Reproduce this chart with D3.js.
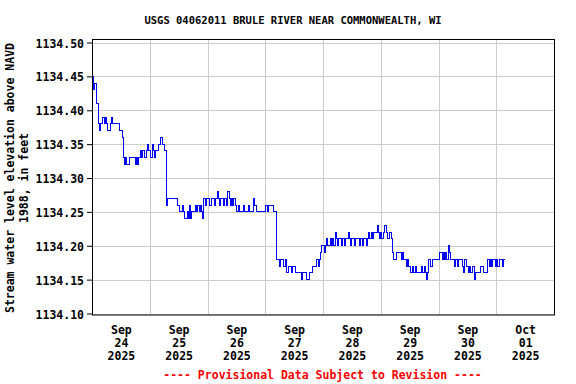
<!DOCTYPE html>
<html>
<head>
<meta charset="utf-8">
<script src="https://cdn.jsdelivr.net/npm/d3@7"></script>
<style>
  html, body { margin: 0; padding: 0; background: #fff; }
  svg { display: block; }
  text { font-family: "DejaVu Sans Mono", monospace; font-weight: bold; }
</style>
</head>
<body>
<svg id="chart" width="576" height="384"></svg>
<script>
// ---------------- DATA ----------------
const titleText = "USGS 04062011 BRULE RIVER NEAR COMMONWEALTH, WI";
const yLabelLines = ["Stream water level elevation above NAVD", "1988, in feet"];
const footerText = "---- Provisional Data Subject to Revision ----";

// first reading: 2025-09-24 00:00, one reading every 30 minutes
const seriesStart = [2025, 8, 24, 0, 0];
const readingMinutes = 30;

// water level, feet above NAVD 1988 (30-minute readings)
const levels = [
  1134.45,1134.43,1134.44,1134.44,1134.41,1134.38,1134.37,1134.38,1134.38,1134.39,1134.38,1134.39,
  1134.38,1134.37,1134.37,1134.38,1134.39,1134.38,1134.38,1134.38,1134.38,1134.38,1134.38,1134.37,
  1134.37,1134.36,1134.33,1134.32,1134.33,1134.32,1134.32,1134.33,1134.33,1134.33,1134.33,1134.33,
  1134.32,1134.33,1134.32,1134.33,1134.34,1134.33,1134.34,1134.34,1134.33,1134.34,1134.35,1134.34,
  1134.34,1134.33,1134.35,1134.34,1134.33,1134.34,1134.34,1134.35,1134.35,1134.36,1134.36,1134.35,
  1134.34,1134.34,1134.26,1134.27,1134.27,1134.27,1134.27,1134.27,1134.27,1134.27,1134.27,1134.26,
  1134.26,1134.25,1134.25,1134.26,1134.25,1134.24,1134.24,1134.25,1134.24,1134.26,1134.24,1134.25,
  1134.25,1134.25,1134.26,1134.25,1134.26,1134.25,1134.26,1134.25,1134.24,1134.27,1134.26,1134.27,
  1134.27,1134.27,1134.26,1134.27,1134.27,1134.27,1134.26,1134.27,1134.28,1134.27,1134.26,1134.27,
  1134.27,1134.26,1134.27,1134.27,1134.26,1134.28,1134.27,1134.26,1134.27,1134.26,1134.27,1134.26,
  1134.25,1134.25,1134.26,1134.25,1134.25,1134.25,1134.26,1134.25,1134.25,1134.25,1134.26,1134.25,
  1134.25,1134.25,1134.27,1134.26,1134.26,1134.25,1134.25,1134.25,1134.25,1134.25,1134.25,1134.25,
  1134.26,1134.26,1134.25,1134.26,1134.26,1134.26,1134.26,1134.25,1134.25,1134.18,1134.18,1134.18,
  1134.17,1134.18,1134.18,1134.17,1134.17,1134.18,1134.16,1134.17,1134.17,1134.17,1134.16,1134.17,
  1134.17,1134.16,1134.16,1134.16,1134.16,1134.16,1134.15,1134.16,1134.16,1134.16,1134.15,1134.15,
  1134.15,1134.16,1134.16,1134.17,1134.17,1134.17,1134.17,1134.18,1134.17,1134.18,1134.19,1134.20,
  1134.20,1134.19,1134.20,1134.21,1134.20,1134.20,1134.21,1134.20,1134.21,1134.20,1134.22,1134.21,
  1134.20,1134.21,1134.21,1134.20,1134.21,1134.21,1134.20,1134.21,1134.21,1134.22,1134.21,1134.20,
  1134.21,1134.21,1134.20,1134.21,1134.21,1134.21,1134.20,1134.21,1134.21,1134.20,1134.21,1134.21,
  1134.20,1134.21,1134.22,1134.21,1134.22,1134.21,1134.22,1134.22,1134.22,1134.23,1134.22,1134.21,
  1134.22,1134.21,1134.22,1134.23,1134.23,1134.22,1134.21,1134.22,1134.22,1134.21,1134.19,1134.18,
  1134.18,1134.19,1134.19,1134.19,1134.19,1134.18,1134.19,1134.18,1134.18,1134.17,1134.18,1134.17,
  1134.17,1134.16,1134.17,1134.16,1134.16,1134.17,1134.16,1134.16,1134.16,1134.16,1134.17,1134.16,
  1134.17,1134.16,1134.15,1134.16,1134.18,1134.17,1134.17,1134.18,1134.18,1134.18,1134.18,1134.18,
  1134.18,1134.19,1134.19,1134.18,1134.19,1134.18,1134.19,1134.18,1134.20,1134.19,1134.18,1134.18,
  1134.18,1134.17,1134.18,1134.18,1134.17,1134.18,1134.18,1134.18,1134.17,1134.16,1134.18,1134.17,
  1134.17,1134.16,1134.17,1134.16,1134.17,1134.17,1134.15,1134.16,1134.16,1134.16,1134.16,1134.17,
  1134.17,1134.16,1134.16,1134.16,1134.16,1134.18,1134.17,1134.18,1134.17,1134.18,1134.18,1134.17,
  1134.18,1134.17,1134.17,1134.18,1134.18,1134.17,1134.18,1134.18
];

const yTicks = [1134.10, 1134.15, 1134.20, 1134.25, 1134.30, 1134.35, 1134.40, 1134.45, 1134.50];
const dayDates = [[2025,8,24],[2025,8,25],[2025,8,26],[2025,8,27],[2025,8,28],[2025,8,29],[2025,8,30],[2025,9,1]];
const tickMonths = ["Sep","Sep","Sep","Sep","Sep","Sep","Sep","Oct"];
const tickDays = ["24","25","26","27","28","29","30","01"];
const tickYears = ["2025","2025","2025","2025","2025","2025","2025","2025"];
const xDomain = [[2025,8,24,0,0],[2025,9,2,0,0]];
const yDomain = [1134.10, 1134.50];

// ---------------- LAYOUT ----------------
const plotLeft = 92, plotRight = 554, plotTop = 42.5, plotBottom = 313.5;
const frameTop = 39.5, frameBottom = 315;

const svg = d3.select("#chart");
const mkDate = a => new Date(a[0], a[1], a[2], a[3] || 0, a[4] || 0);

const x = d3.scaleTime().domain(xDomain.map(mkDate)).range([plotLeft, plotRight]);
const y = d3.scaleLinear().domain(yDomain).range([plotBottom, plotTop]);

const t0 = mkDate(seriesStart);
const data = levels.map((v, i) => ({ t: new Date(t0.getTime() + i * readingMinutes * 60000), v }));

// grid
const gridG = svg.append("g");
gridG.selectAll("line.h").data(yTicks).join("line")
  .attr("x1", plotLeft).attr("x2", plotRight)
  .attr("y1", d => Math.round(y(d)) + 0.5).attr("y2", d => Math.round(y(d)) + 0.5)
  .attr("stroke", "#cccccc").attr("stroke-width", 1);
const midnights = dayDates.slice(1).map(d => mkDate(d));
gridG.selectAll("line.v").data(midnights).join("line")
  .attr("x1", d => Math.round(x(d)) + 0.5).attr("x2", d => Math.round(x(d)) + 0.5)
  .attr("y1", frameTop).attr("y2", frameBottom)
  .attr("stroke", "#cccccc").attr("stroke-width", 1);

// data line
const line = d3.line().x(d => x(d.t)).y(d => y(d.v)).curve(d3.curveStepAfter);
svg.append("path").datum(data)
  .attr("d", line)
  .attr("fill", "none")
  .attr("stroke", "#0000ff")
  .attr("stroke-width", 1)
  .attr("shape-rendering", "crispEdges");

// frame
svg.append("rect")
  .attr("x", plotLeft + 0.5).attr("y", frameTop)
  .attr("width", plotRight - plotLeft).attr("height", frameBottom - frameTop)
  .attr("fill", "none").attr("stroke", "#000").attr("stroke-width", 1);

// y axis
const yAxis = d3.axisLeft(y).tickValues(yTicks).tickFormat(d3.format(".2f")).tickSize(5).tickPadding(3);
const yG = svg.append("g").attr("transform", `translate(${plotLeft},0)`).call(yAxis);
yG.select(".domain").remove();
yG.selectAll(".tick line").attr("stroke", "#000");
yG.selectAll(".tick text")
  .attr("font-family", "DejaVu Sans Mono, monospace")
  .attr("font-weight", "bold")
  .attr("font-size", "11.5px")
  .attr("fill", "#000")
  .attr("dy", "0.4em");

// x axis: labels at noon of each day
const noonTicks = dayDates.map(d => new Date(d[0], d[1], d[2], 12, 0));
const xAxis = d3.axisBottom(x).tickValues(noonTicks).tickSize(0).tickFormat("");
const xG = svg.append("g").attr("transform", `translate(0,${frameBottom})`).call(xAxis);
xG.select(".domain").remove();
xG.selectAll(".tick").each(function(d, i) {
  const txt = d3.select(this).append("text")
    .attr("text-anchor", "middle")
    .attr("font-size", "11.5px")
    .attr("fill", "#000");
  txt.append("tspan").attr("x", 0).attr("y", 19).text(tickMonths[i]);
  txt.append("tspan").attr("x", 0).attr("y", 32).text(tickDays[i]);
  txt.append("tspan").attr("x", 0).attr("y", 45).text(tickYears[i]);
});

// title
svg.append("text")
  .attr("x", 293).attr("y", 24)
  .attr("text-anchor", "middle")
  .attr("font-size", "10.5px")
  .attr("fill", "#000")
  .text(titleText);

// y label
const yl = svg.append("text")
  .attr("transform", `translate(0,${(plotTop + plotBottom) / 2}) rotate(-90)`)
  .attr("text-anchor", "middle")
  .attr("font-size", "11.5px")
  .attr("fill", "#000");
yl.append("tspan").attr("x", 0).attr("y", 14).text(yLabelLines[0]);
yl.append("tspan").attr("x", 0).attr("y", 27.5).text(yLabelLines[1]);

// footer
svg.append("text")
  .attr("x", 322.5).attr("y", 379)
  .attr("text-anchor", "middle")
  .attr("font-size", "11.5px")
  .attr("fill", "#ff0000")
  .text(footerText);
</script>
</body>
</html>
